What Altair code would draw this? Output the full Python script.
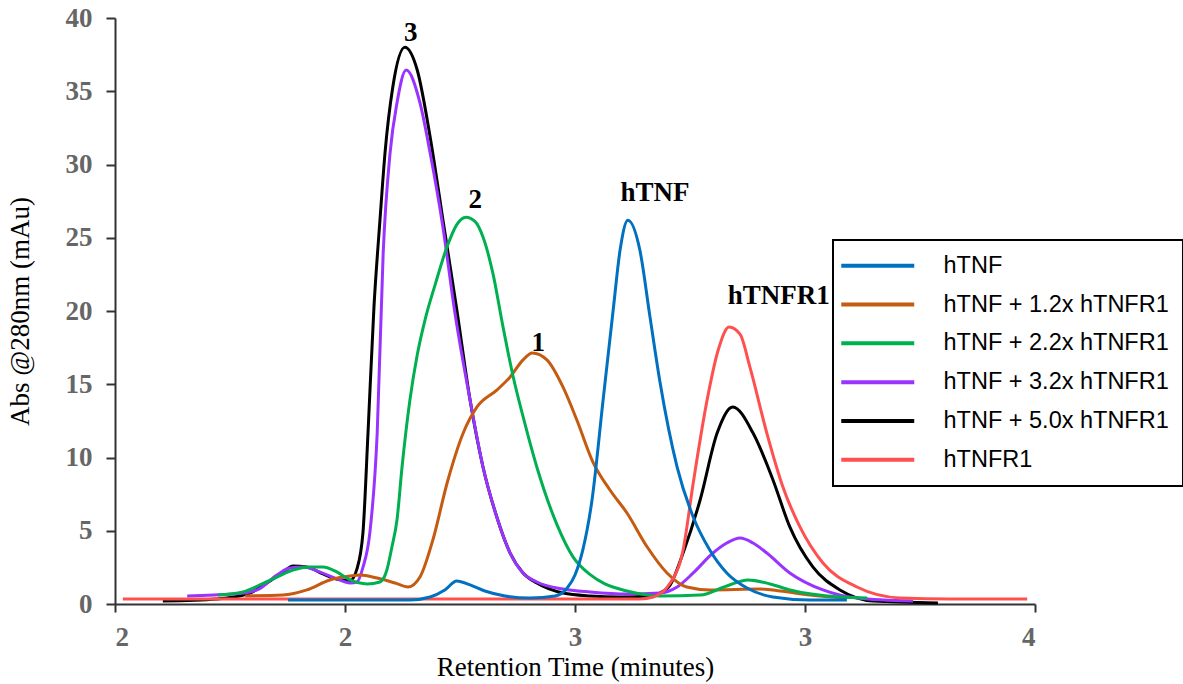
import altair as alt
import pandas as pd

# Sample names (legend order) and their trace colours
samples = [
    "hTNF",
    "hTNF + 1.2x hTNFR1",
    "hTNF + 2.2x hTNFR1",
    "hTNF + 3.2x hTNFR1",
    "hTNF + 5.0x hTNFR1",
    "hTNFR1",
]
colors = ["#0070C0", "#C55A11", "#00B050", "#9933FF", "#000000", "#FF5050"]

# Chromatogram traces: retention time (min) and absorbance (mAu)
t_htnf = [2.376, 2.641, 2.685, 2.717, 2.743, 2.772, 2.804, 2.848, 2.902, 2.957, 2.983,
          3.000, 3.017, 3.037, 3.061, 3.083, 3.098, 3.115, 3.141, 3.163, 3.185, 3.222,
          3.257, 3.293, 3.330, 3.374, 3.430, 3.511, 3.591]
a_htnf = [0.27, 0.27, 0.48, 0.96, 1.57, 1.30, 0.89, 0.55, 0.41, 0.55, 1.09,
          1.98, 3.69, 7.10, 13.9, 20.07, 24.16, 26.2, 24.16, 19.6, 15.1, 9.35,
          5.94, 3.69, 2.12, 1.09, 0.48, 0.27, 0.27]

t_12x = [2.283, 2.365, 2.417, 2.467, 2.511, 2.533, 2.570, 2.609, 2.637, 2.663, 2.691,
         2.722, 2.757, 2.787, 2.830, 2.859, 2.887, 2.907, 2.939, 2.974, 3.004, 3.039,
         3.076, 3.113, 3.157, 3.200, 3.243, 3.293, 3.402, 3.446, 3.511, 3.591]
a_12x = [0.55, 0.61, 0.96, 1.64, 1.91, 1.98, 1.77, 1.43, 1.16, 1.84, 4.37,
         8.26, 11.67, 13.45, 14.6, 15.5, 16.66, 17.13, 16.66, 14.8, 12.56, 9.69,
         7.78, 6.21, 3.89, 2.12, 1.16, 0.96, 1.02, 0.89, 0.61, 0.41]

t_22x = [2.224, 2.278, 2.315, 2.352, 2.387, 2.424, 2.452, 2.483, 2.511, 2.548, 2.576,
         2.591, 2.602, 2.613, 2.624, 2.641, 2.657, 2.674, 2.696, 2.722, 2.743, 2.763,
         2.783, 2.800, 2.822, 2.843, 2.865, 2.887, 2.917, 2.961, 2.996, 3.033, 3.065,
         3.113, 3.185, 3.272, 3.330, 3.376, 3.424, 3.467, 3.576, 3.635]
a_22x = [0.61, 0.82, 1.30, 1.84, 2.32, 2.53, 2.53, 2.18, 1.64, 1.37, 1.50,
         2.32, 3.89, 5.73, 9.35, 13.9, 17.0, 19.4, 21.8, 24.4, 25.9, 26.4,
         26.1, 25.05, 22.5, 19.0, 15.6, 12.8, 9.35, 5.4, 3.2, 2.0, 1.37,
         0.89, 0.55, 0.61, 1.23, 1.64, 1.37, 0.96, 0.48, 0.41]

t_32x = [2.157, 2.257, 2.309, 2.352, 2.380, 2.409, 2.446, 2.483, 2.511, 2.526, 2.539,
         2.554, 2.570, 2.583, 2.598, 2.613, 2.633, 2.663, 2.685, 2.713, 2.739, 2.772,
         2.800, 2.830, 2.859, 2.887, 2.917, 2.974, 3.033, 3.113, 3.185, 3.222, 3.257,
         3.300, 3.330, 3.359, 3.387, 3.417, 3.467, 3.539, 3.613, 3.735]
a_32x = [0.55, 0.68, 0.96, 1.98, 2.46, 2.53, 2.18, 1.71, 1.43, 1.50, 2.50,
         4.85, 11.67, 23.96, 30.8, 34.2, 36.45, 34.2, 30.8, 25.7, 19.86, 13.9,
         9.35, 5.94, 3.48, 2.12, 1.50, 1.02, 0.82, 0.68, 0.75, 1.16, 2.12,
         3.48, 4.16, 4.50, 4.16, 3.48, 2.12, 0.96, 0.41, 0.20]

t_50x = [2.104, 2.222, 2.293, 2.330, 2.365, 2.387, 2.417, 2.452, 2.489, 2.511, 2.526,
         2.539, 2.550, 2.563, 2.576, 2.587, 2.604, 2.630, 2.657, 2.685, 2.713,
         2.743, 2.772, 2.800, 2.830, 2.859, 2.887, 2.917, 2.974, 3.033, 3.098, 3.163,
         3.185, 3.207, 3.235, 3.272, 3.309, 3.343, 3.387, 3.430, 3.467, 3.517, 3.576,
         3.648, 3.789]
a_50x = [0.20, 0.34, 0.75, 1.43, 2.18, 2.59, 2.53, 2.05, 1.65, 1.60, 2.40,
         4.85, 11.67, 20.3, 26.2, 30.8, 35.3, 38.0, 36.45, 31.9, 26.2,
         20.1, 13.9, 9.35, 5.94, 3.48, 2.12, 1.43, 0.75, 0.55, 0.48, 0.55,
         0.75, 1.30, 3.48, 7.10, 11.67, 13.45, 11.67, 8.50, 5.26, 2.53, 0.96,
         0.20, 0.07]

t_r1 = [2.017, 3.141, 3.170, 3.207, 3.235, 3.257, 3.287, 3.311, 3.335, 3.359, 3.380,
        3.417, 3.452, 3.489, 3.539, 3.613, 3.707, 3.815, 3.983]
a_r1 = [0.34, 0.34, 0.48, 1.43, 3.69, 8.26, 13.9, 17.3, 18.9, 18.4, 16.2,
        11.67, 7.99, 5.26, 2.80, 1.16, 0.41, 0.34, 0.34]

# Peak annotations
peak_labels = ["3", "2", "1", "hTNF", "hTNFR1"]
peak_time = [2.643, 2.783, 2.920, 3.174, 3.443]
peak_abs = [38.98, 27.6, 17.8, 28.05, 21.0]

traces = {
    "hTNF": (t_htnf, a_htnf),
    "hTNF + 1.2x hTNFR1": (t_12x, a_12x),
    "hTNF + 2.2x hTNFR1": (t_22x, a_22x),
    "hTNF + 3.2x hTNFR1": (t_32x, a_32x),
    "hTNF + 5.0x hTNFR1": (t_50x, a_50x),
    "hTNFR1": (t_r1, a_r1),
}

# Drawing order (later layers on top)
draw_order = [
    "hTNF + 5.0x hTNFR1",
    "hTNF + 3.2x hTNFR1",
    "hTNF + 1.2x hTNFR1",
    "hTNF + 2.2x hTNFR1",
    "hTNFR1",
    "hTNF",
]

serif = "Liberation Serif"
axis_common = dict(
    labelFont=serif, labelFontWeight="bold", labelFontSize=27, labelColor="#666666",
    titleFont=serif, titleFontWeight="normal", titleFontSize=27, titleColor="black",
    tickColor="#333333", tickWidth=2, domainColor="#333333", domainWidth=2,
    grid=False,
)
x_axis = alt.Axis(
    values=[2, 2.5, 3, 3.5, 4], labelExpr="floor(datum.value)",
    title="Retention Time (minutes)", tickSize=8, labelPadding=12, titlePadding=4,
    **axis_common,
)
y_axis = alt.Axis(
    values=[0, 5, 10, 15, 20, 25, 30, 35, 40],
    title="Abs @280nm (mAu)", tickSize=9, labelPadding=14, titlePadding=31,
    **axis_common,
)
x_scale = alt.Scale(domain=[2, 4], nice=False, zero=False)
y_scale = alt.Scale(domain=[0, 40], nice=False)
color_scale = alt.Scale(domain=samples, range=colors)
legend = alt.Legend(
    title=None, orient="none", legendX=718, legendY=222,
    symbolType="M-5,0H5", symbolSize=213, symbolStrokeWidth=4,
    symbolOffset=19, labelOffset=54, labelFont="Liberation Sans",
    labelFontSize=23.5, labelColor="black", labelLimit=400,
    padding=14, rowPadding=13.8, strokeColor="black", fillColor="white",
)

layers = []
for name in draw_order:
    t, a = traces[name]
    df = pd.DataFrame({"time": t, "abs": a, "sample": name})
    layers.append(
        alt.Chart(df).mark_line(strokeWidth=3, interpolate="monotone").encode(
            x=alt.X("time:Q", scale=x_scale, axis=x_axis),
            y=alt.Y("abs:Q", scale=y_scale, axis=y_axis),
            color=alt.Color("sample:N", scale=color_scale, legend=legend, sort=samples),
        )
    )

notes = pd.DataFrame({"time": peak_time, "abs": peak_abs, "label": peak_labels})
layers.append(
    alt.Chart(notes).mark_text(
        font=serif, fontWeight="bold", fontSize=27, color="black",
        align="center", baseline="middle",
    ).encode(x="time:Q", y="abs:Q", text="label:N")
)

chart = (
    alt.layer(*layers)
    .properties(
        width=920, height=586,
        padding={"left": 115, "top": 18, "right": 148, "bottom": 80},
        autosize=alt.AutoSizeParams(type="none"),
    )
    .configure_view(stroke=None)
    .configure_legend(strokeWidth=2)
)

chart.save("out.html", embed_options={"renderer": "svg", "actions": False})
